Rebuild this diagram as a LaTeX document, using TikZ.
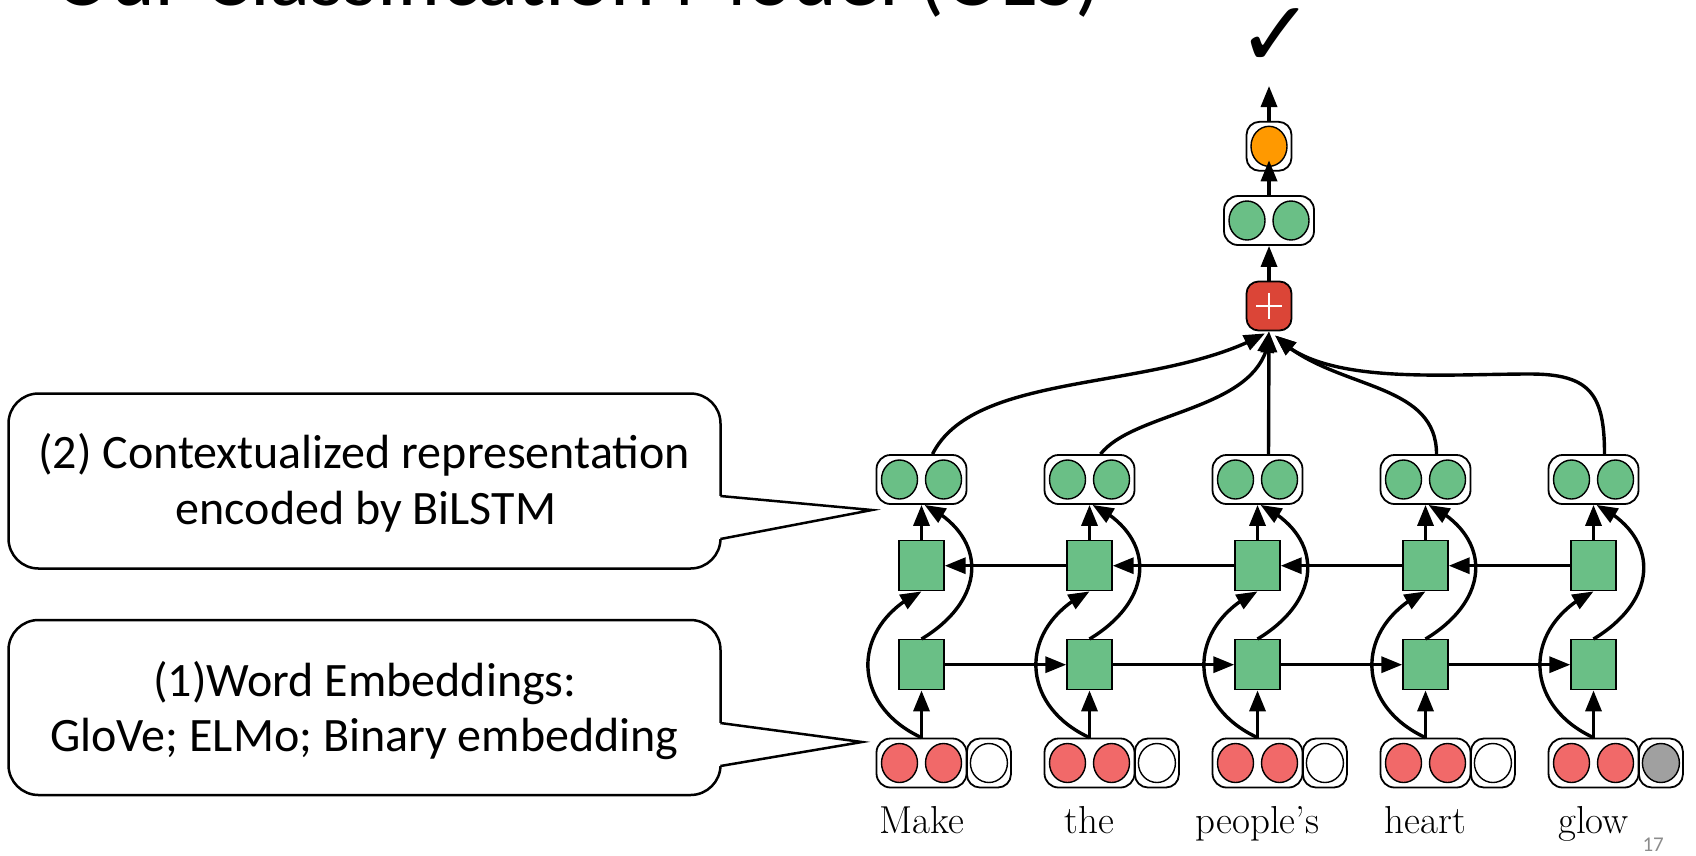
\documentclass[tikz,border=0pt]{standalone}
\usepackage{fontspec}
\usepackage{graphicx}
\usetikzlibrary{arrows.meta,bending,shapes.geometric,calc}
\newfontfamily\calib{Carlito}
\newfontfamily\dejavu{DejaVu Sans}
\definecolor{cellgreen}{RGB}{106,191,134}
\definecolor{embred}{RGB}{241,105,105}
\definecolor{outorange}{RGB}{255,153,0}
\definecolor{sumred}{RGB}{219,69,55}
\definecolor{flaggray}{RGB}{160,160,160}
\definecolor{pagegray}{RGB}{140,140,140}

\begin{document}
\begin{tikzpicture}[x=1pt,y=-1pt,
  holder/.style={draw, line width=1.8pt, rounded corners=14pt, fill=white,
    minimum width=90pt, minimum height=49pt, inner sep=0pt},
  holdersmall/.style={holder, minimum width=44pt, rounded corners=13pt},
  unit/.style={draw, line width=1.4pt, ellipse, minimum width=36pt,
    minimum height=39pt, inner sep=0pt},
  cell/.style={draw, line width=1.4pt, fill=cellgreen, minimum width=45pt,
    minimum height=50pt, inner sep=0pt},
  flow/.style={line width=3.4pt, -{Triangle[length=21pt,width=16pt]}},
  callout/.style={draw, line width=2.5pt, rounded corners=30pt, fill=white,
    minimum width=712pt, minimum height=175pt, inner sep=0pt},
  notetext/.style={anchor=base, inner sep=0pt, font=\calib\fontsize{48}{54}\selectfont},
  wordtext/.style={anchor=base, inner sep=0pt, font=\fontsize{39}{44}\selectfont},
]
\path[use as bounding box] (0,0) rectangle (1696,855);
\clip (0,0) rectangle (1696,855);

% slide title, mostly above the visible area
\node[anchor=base west, inner sep=0pt] (title) at (54,5)
  {\resizebox{1047pt}{!}{\calib Our Classification Model (OLS)}};

% one column per word: embedding, two LSTM cells, contextual vector
\foreach \i/\x/\w/\f in {1/921.5/Make/white, 2/1089.5/the/white,
    3/1257.5/people’s/white, 4/1425.5/heart/white, 5/1593.5/glow/flaggray}{
  \node[holder] (pair\i) at (\x,479.5) {};
  \node[unit, fill=cellgreen] (pairA\i) at (\x-22,479.5) {};
  \node[unit, fill=cellgreen] (pairB\i) at (\x+22,479.5) {};
  \node[cell] (up\i) at (\x,565.7) {};
  \node[cell] (lo\i) at (\x,664.7) {};
  \node[holder] (emb\i) at (\x,763) {};
  \node[unit, fill=embred] (embA\i) at (\x-22,763) {};
  \node[unit, fill=embred] (embB\i) at (\x+22,763) {};
  \node[holdersmall] (flagbox\i) at (\x+67.4,763) {};
  \node[unit, fill=\f, minimum width=37pt] (flag\i) at (\x+67.4,763) {};
  \node[wordtext] (word\i) at (\x,833) {\w};
}

% pooling and output
\node[holder, minimum width=45pt, rounded corners=12pt, fill=sumred] (sum) at (1269,306) {};
\draw[white, line width=1.6pt] ($(sum.center)+(-13,0)$) -- ($(sum.center)+(13,0)$);
\draw[white, line width=1.6pt] ($(sum.center)+(0,-13)$) -- ($(sum.center)+(0,13)$);
\node[holder] (head) at (1269,220.5) {};
\node[unit, fill=cellgreen] (headA) at (1247,220.5) {};
\node[unit, fill=cellgreen] (headB) at (1291,220.5) {};
\node[holder, minimum width=45pt, rounded corners=13pt] (outbox) at (1269,146.3) {};
\node[unit, fill=outorange, minimum height=40pt] (outunit) at (1269,146.3) {};
\coordinate (result) at (1269,86);
\node[inner sep=0pt, font=\dejavu\fontsize{92}{92}\selectfont] (tick) at (1276,38) {✓};

% connections inside each column
\foreach \i in {1,...,5}{
  \draw[flow] (emb\i.north) -- (lo\i.south);
  \draw[flow] (emb\i.north) .. controls +(-71.5,-33) and +(-71.5,34) .. (up\i.south);
  \draw[flow] (lo\i.north) .. controls +(66.5,-40) and +(63.5,31) .. ($(pair\i.south)+(3,0)$);
  \draw[flow] (up\i.north) -- (pair\i.south);
}
% forward and backward recurrences
\foreach \i/\j in {1/2,2/3,3/4,4/5}{
  \draw[flow] (lo\i.east) -- (lo\j.west);
  \draw[flow] (up\j.west) -- (up\i.east);
}

% contextual vectors into the sum
\coordinate (glowbend) at (1530,374);
\draw[flow] ($(pair1.north)+(11,0)$) .. controls +(42.5,-85) and +(-105,59.3) .. ($(sum.south)+(-4,2)$);
\draw[flow] ($(pair2.north)+(11,0)$) .. controls +(35,-45) and +(0,79.3) .. (sum.south);
\draw[flow] ($(pair3.north)+(11,0)$) -- (sum.south);
\draw[flow] ($(pair4.north)+(11,0)$) .. controls +(0,-75) and +(55,55.3) .. ($(sum.south)+(6,4)$);
\draw[flow] ($(pair5.north)+(11,0)$) .. controls +(0,-60) and +(60,0) .. (glowbend)
   .. controls +(-90,0) and +(45,50) .. ($(sum.south)+(6,4)$);
\draw[flow] (sum.north) -- (head.south);
\draw[flow] (head.north) -- ($(outunit.center)+(0,14)$);
\draw[flow] (outbox.north) -- (result);

% callouts
\node[callout] (note2) at (364.5,481) {};
\coordinate (note2tip) at (872,510);
\fill[white] (716,496) -- (720.4,496) -- (note2tip) -- (720.4,539) -- (716,539) -- cycle;
\draw[line width=2.5pt] (720.4,496) -- (note2tip) -- (720.4,539);
\node[notetext] (note2a) at (364,468) {(2) Contextualized representation};
\node[notetext] (note2b) at (366,524) {encoded by BiLSTM};

\node[callout] (note1) at (364.5,707.5) {};
\coordinate (note1tip) at (862,742);
\fill[white] (716,723) -- (720.4,723) -- (note1tip) -- (720.4,766) -- (716,766) -- cycle;
\draw[line width=2.5pt] (720.4,723) -- (note1tip) -- (720.4,766);
\node[notetext] (note1a) at (365,696) {(1)Word Embeddings:};
\node[notetext] (note1b) at (364.5,751.5) {GloVe; ELMo; Binary embedding};

\node[anchor=base east, inner sep=0pt, font=\calib\fontsize{21}{21}\selectfont,
  text=pagegray] (pagenum) at (1664,851) {17};
\end{tikzpicture}
\end{document}
